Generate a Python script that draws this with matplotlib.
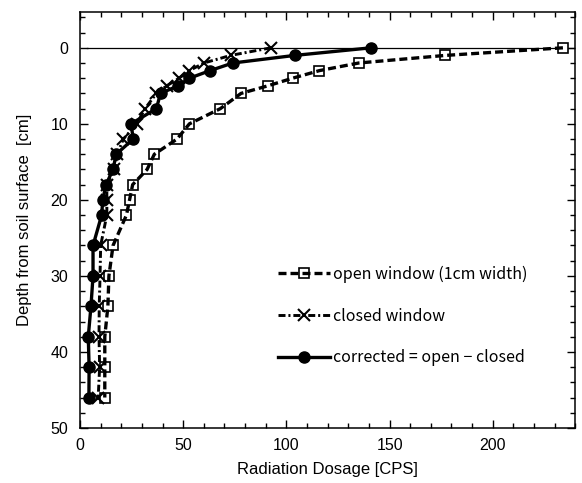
import matplotlib
matplotlib.use("Agg")
import matplotlib.pyplot as plt
from matplotlib.ticker import MultipleLocator
from matplotlib.legend_handler import HandlerTuple

plt.rcParams['font.family'] = ['Liberation Sans', 'DejaVu Sans']

# depth below soil surface [cm]
depth = [0, 1, 2, 3, 4, 5, 6, 8, 10, 12, 14, 16, 18, 20, 22, 26, 30, 34, 38, 42, 46]
# radiation dosage [CPS]
open_window = [234, 177, 135, 116, 103, 91, 78, 68, 53, 47, 36, 32.5, 25.5, 24, 22.5,
               16, 14, 13.5, 12, 12, 12]
closed_window = [92.5, 73, 60, 53, 48, 42, 37, 31.5, 27.5, 21, 18, 16.5, 13, 13, 13,
                 10, 9.7, 9.3, 9.2, 9.5, 8.8]
corrected = [141, 104, 74, 63, 53, 47.5, 39, 37, 24.7, 25.8, 17.5, 16, 12.6, 11, 10.5,
             6.3, 6.3, 5.3, 4, 4.4, 4.3]

labels = ["open window (1cm width)", "closed window", "corrected = open \u2212 closed"]

fig = plt.figure(figsize=(5.82, 4.83), dpi=100)
ax = fig.add_axes([0.1375, 0.114, 0.851, 0.861])

ax.axhline(0, xmin=0.015, color="black", lw=0.9, zorder=1)

# open window: markers below, dashed line drawn on top
m1, = ax.plot(open_window, depth, ls="none", marker="s", ms=7.5, mfc="white",
              mec="black", mew=1.2, zorder=2)
l1, = ax.plot(open_window, depth, ls="--", dashes=(2.4, 1.2), color="black",
              lw=2.4, zorder=3)

# closed window
l2, = ax.plot(closed_window, depth, ls="-.", dashes=(2.4, 1.0, 0.7, 1.0),
              color="black", lw=2.1, marker="x", ms=8, mew=1.5, zorder=4)

# corrected
l3, = ax.plot(corrected, depth, ls="-", color="black", lw=2.4, marker="o",
              ms=8, zorder=5)

ax.set_xlim(0, 240)
ax.set_ylim(50, -4.7)
ax.xaxis.set_major_locator(MultipleLocator(50))
ax.xaxis.set_minor_locator(MultipleLocator(10))
ax.yaxis.set_major_locator(MultipleLocator(10))
ax.yaxis.set_minor_locator(MultipleLocator(2))
ax.tick_params(which="both", direction="in", top=True, right=True, width=1.0,
               labelsize=11.5)
ax.tick_params(which="major", length=6)
ax.tick_params(which="minor", length=3.5)
ax.tick_params(axis="x", pad=7)
ax.tick_params(axis="y", pad=8.5)
for s in ax.spines.values():
    s.set_linewidth(1.1)

ax.set_xlabel("Radiation Dosage [CPS]", fontsize=12, labelpad=7)
ax.set_ylabel("Depth from soil surface  [cm]", fontsize=12, labelpad=13)

leg = ax.legend([(m1, l1), l2, l3], labels,
                handler_map={tuple: HandlerTuple(ndivide=1)},
                loc="upper left", bbox_to_anchor=(0.37, 0.425),
                frameon=False, numpoints=1, handlelength=3.3,
                handletextpad=0.15, labelspacing=1.55,
                prop={"family": ["Noto Sans CJK JP", "DejaVu Sans"], "size": 11.5})

fig.savefig("out.png", dpi=100)
